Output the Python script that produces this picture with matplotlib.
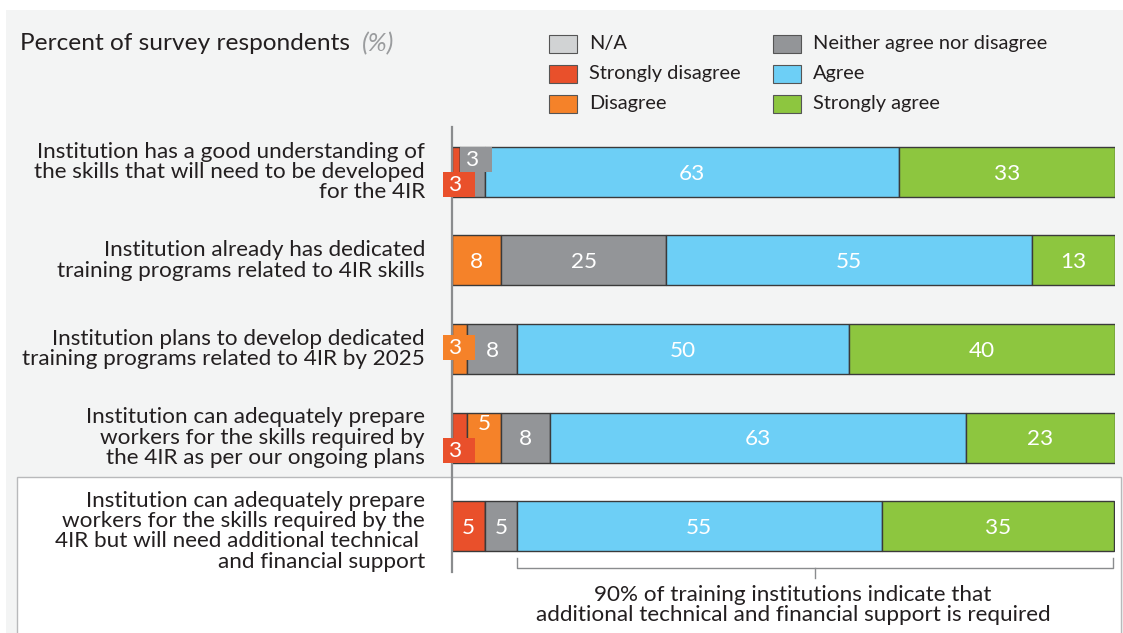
import matplotlib
matplotlib.use("Agg")
import matplotlib.pyplot as plt
from matplotlib.patches import Rectangle
import numpy as np

plt.rcParams["font.family"] = ["Lato", "DejaVu Sans"]

categories = [
    "Institution has a good understanding of\nthe skills that will need to be developed\nfor the 4IR",
    "Institution already has dedicated\ntraining programs related to 4IR skills",
    "Institution plans to develop dedicated\ntraining programs related to 4IR by 2025",
    "Institution can adequately prepare\nworkers for the skills required by\nthe 4IR as per our ongoing plans",
    "Institution can adequately prepare\nworkers for the skills required by the\n4IR but will need additional technical \nand financial support",
]
series_names = ["N/A", "Strongly disagree", "Disagree",
                "Neither agree nor disagree", "Agree", "Strongly agree"]
colors = ["#d1d3d4", "#e9502b", "#f58229", "#939598", "#6dcff6", "#8dc63f"]

# segment widths as drawn (percent)
na_w = [0, 0, 0, 0, 0]
sdis_w = [1.2, 0, 0, 2.3, 5.0]
dis_w = [0, 7.4, 2.3, 5.1, 0]
neu_w = [3.8, 24.9, 7.5, 7.4, 4.8]
agr_w = [62.4, 55.2, 50.1, 62.7, 55.0]
sagr_w = [32.6, 12.5, 40.1, 22.5, 35.1]
widths = [na_w, sdis_w, dis_w, neu_w, agr_w, sagr_w]

# printed labels ("" = none; tiny segments get call-out boxes below)
na_lab = ["", "", "", "", ""]
sdis_lab = ["", "", "", "", "5"]
dis_lab = ["", "8", "", "", ""]
neu_lab = ["", "25", "8", "8", "5"]
agr_lab = ["63", "55", "50", "63", "55"]
sagr_lab = ["33", "13", "40", "23", "35"]
labels = [na_lab, sdis_lab, dis_lab, neu_lab, agr_lab, sagr_lab]

W, H = 1123, 633
FS = 16.2
fig = plt.figure(figsize=(W / 100, H / 100), dpi=100)
fig.patch.set_facecolor("white")

def fx(px):
    return px / W

def fy(py):
    return 1 - py / H

# background panel and box
fig.patches.append(Rectangle((fx(6), 0), 1, fy(10), transform=fig.transFigure,
                             facecolor="#f3f4f4", edgecolor="none", zorder=-10))
fig.patches.append(Rectangle((fx(17), -0.01), fx(1121) - fx(17), fy(477) + 0.01,
                             transform=fig.transFigure, facecolor="white",
                             edgecolor="#b8b9bb", linewidth=1.0, zorder=-9))

# axes: x 0..100 -> px 452..1115 ; rows centred at 172 + 88.5*i
row0, step = 172, 88.5
top_px, bot_px = 127, 572
ax = fig.add_axes([fx(452), fy(bot_px), fx(1115) - fx(452), fy(top_px) - fy(bot_px)])
ax.set_xlim(0, 100)
ax.set_ylim((bot_px - row0) / step, (top_px - row0) / step)
ax.patch.set_alpha(0)
for s in ["top", "right", "bottom"]:
    ax.spines[s].set_visible(False)
ax.spines["left"].set_color("#8a8c8e")
ax.spines["left"].set_linewidth(1.6)
ax.set_xticks([])
ax.set_yticks([])

y = np.arange(len(categories))
bh = 50 / step
left = np.zeros(len(categories))
for name, col, w, lab in zip(series_names, colors, widths, labels):
    w = np.array(w)
    ax.barh(y, w, left=left, height=bh, color=col, edgecolor="#3a3a3a",
            linewidth=1.0, zorder=2)
    for i in range(len(y)):
        if lab[i]:
            ax.text(left[i] + w[i] / 2, y[i] + 0.02, lab[i], ha="center", va="center",
                    color="white", fontsize=FS, zorder=4)
    left = left + w

# small call-out boxes for tiny segments
bw = 32 / 6.63
bhh = 25 / step
callouts = [
    # row, x-left, upper(True)/lower(False)/centred(None), color, text
    (0, 8 / 6.63, True, colors[3], "3"),
    (0, -9 / 6.63, False, colors[1], "3"),
    (2, -9 / 6.63, None, colors[2], "3"),
    (3, -9 / 6.63, False, colors[1], "3"),
]
for r, x0, upper, col, txt in callouts:
    if upper is True:
        yb = y[r] - bh / 2
    elif upper is False:
        yb = y[r]
    else:
        yb = y[r] - bhh / 2 - 0.02
    ax.add_patch(Rectangle((x0, yb), bw, bhh, facecolor=col, edgecolor="none",
                           zorder=5, clip_on=False))
    ax.text(x0 + bw * 0.38, yb + bhh / 2 + 0.01, txt, ha="center", va="center",
            color="white", fontsize=FS, zorder=6, clip_on=False)
# "5" label sitting in the upper part of the orange segment (row 4)
ax.text(sdis_w[3] + dis_w[3] / 2, y[3] - 0.15, "5", ha="center", va="center",
        color="white", fontsize=FS, zorder=6)

# category labels
for i, c in enumerate(categories):
    off = 0.06 if i == 4 else 0
    ax.text(-27 / 6.63, y[i] + off, c, ha="right", va="center", fontsize=FS,
            color="#231f20", linespacing=1.02, clip_on=False)

# bracket under last bar
bx0 = sdis_w[4] + neu_w[4]
bx1 = 99.7
yb0 = y[4] + 32 / step
yb1 = y[4] + 42 / step
xmid = (bx0 + bx1) / 2
ax.plot([bx0, bx0, bx1, bx1], [yb0, yb1, yb1, yb0], color="#8a8c8e",
        linewidth=1.0, clip_on=False, zorder=3)
ax.plot([xmid, xmid], [yb1, yb1 + 10 / step], color="#8a8c8e", linewidth=1.0,
        clip_on=False, zorder=3)
fig.text(fx(793), fy(605), "90% of training institutions indicate that\n"
         "additional technical and financial support is required",
         ha="center", va="center", fontsize=FS, color="#231f20", linespacing=1.02)

# title
t = fig.text(fx(20), fy(44), "Percent of survey respondents", ha="left",
             va="center", fontsize=17.6, color="#231f20")
fig.canvas.draw()
bb = t.get_window_extent()
fig.text((bb.x1 + 12) / W, fy(44), "(%)", ha="left", va="center", fontsize=18.5,
         color="#9a9c9e", style="italic")

# legend
leg_pos = [(549, 44), (549, 74), (549, 104), (773, 44), (773, 74), (773, 104)]
for k, (px, py) in enumerate(leg_pos):
    fig.patches.append(Rectangle((fx(px), fy(py + 9)), 28 / W, 18 / H,
                                 transform=fig.transFigure, facecolor=colors[k],
                                 edgecolor="#555555", linewidth=0.8))
    fig.text(fx(px + 40), fy(py), series_names[k], ha="left", va="center",
             fontsize=14.4, color="#231f20")

fig.savefig("out.png", dpi=100, facecolor=fig.get_facecolor())
